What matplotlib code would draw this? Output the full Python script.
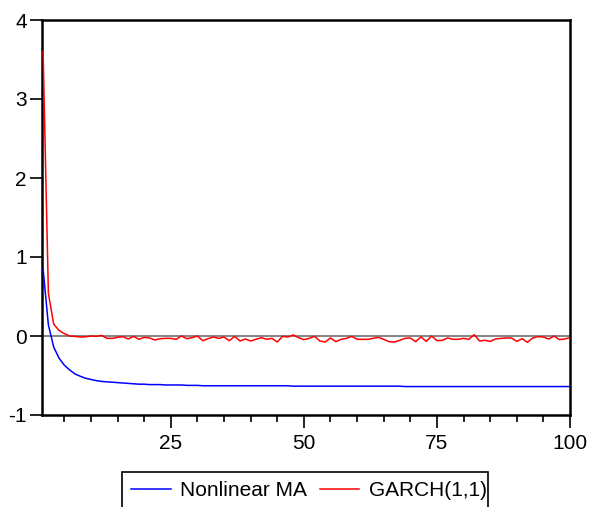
import matplotlib
matplotlib.use("Agg")
import matplotlib.pyplot as plt
from matplotlib.ticker import FixedLocator, MultipleLocator
from matplotlib.lines import Line2D
from matplotlib.patches import Rectangle

plt.rcParams['font.family'] = ['Liberation Sans', 'DejaVu Sans']

periods = list(range(1, 101))

nonlinear_ma = [
    0.85, 0.14, -0.14, -0.28, -0.37, -0.43, -0.48, -0.51, -0.535, -0.55,
    -0.565, -0.575, -0.58, -0.585, -0.59, -0.595, -0.60, -0.605, -0.61, -0.61,
    -0.615, -0.615, -0.615, -0.62, -0.62, -0.62, -0.62, -0.625, -0.625, -0.625,
    -0.63, -0.63, -0.63, -0.63, -0.63, -0.63, -0.63, -0.63, -0.63, -0.63,
    -0.63, -0.63, -0.63, -0.63, -0.63, -0.63, -0.63, -0.635, -0.635, -0.635,
    -0.635, -0.635, -0.635, -0.635, -0.635, -0.635, -0.635, -0.635, -0.635, -0.635,
    -0.635, -0.635, -0.635, -0.635, -0.635, -0.635, -0.635, -0.635, -0.64, -0.64,
    -0.64, -0.64, -0.64, -0.64, -0.64, -0.64, -0.64, -0.64, -0.64, -0.64,
    -0.64, -0.64, -0.64, -0.64, -0.64, -0.64, -0.64, -0.64, -0.64, -0.64,
    -0.64, -0.64, -0.64, -0.64, -0.64, -0.64, -0.64, -0.64, -0.64, -0.64,
]

garch = [
    3.60, 0.54, 0.15, 0.07, 0.03, 0.0, -0.005, -0.013, -0.01, 0.0,
    -0.005, 0.008, -0.03, -0.03, -0.017, -0.008, -0.038, -0.004, -0.042, -0.017,
    -0.025, -0.05, -0.034, -0.03, -0.03, -0.042, 0.0, -0.034, -0.021, 0.0,
    -0.059, -0.034, -0.013, -0.03, -0.013, -0.06, -0.004, -0.063, -0.038, -0.063,
    -0.042, -0.021, -0.042, -0.03, -0.076, -0.004, -0.013, 0.013, -0.021, -0.046,
    -0.03, -0.004, -0.063, -0.076, -0.025, -0.072, -0.042, -0.03, -0.004, -0.042,
    -0.042, -0.042, -0.03, -0.017, -0.042, -0.072, -0.076, -0.055, -0.03, -0.025,
    -0.072, -0.013, -0.068, 0.0, -0.059, -0.055, -0.025, -0.042, -0.042, -0.03,
    -0.042, 0.017, -0.063, -0.055, -0.068, -0.038, -0.03, -0.025, -0.025, -0.068,
    -0.034, -0.08, -0.025, -0.008, -0.013, -0.038, 0.0, -0.046, -0.038, -0.021,
]

series_names = ["Nonlinear MA", "GARCH(1,1)"]
series_colors = ["#0000ff", "#ff0000"]
y_ticks = [-1, 0, 1, 2, 3, 4]
x_major_ticks = [25, 50, 75, 100]

W, H = 589, 507
fig = plt.figure(figsize=(W / 100, H / 100), dpi=100)
ax = fig.add_axes([42 / W, 1 - 415 / H, 528 / W, 395 / H])

ax.axhline(0, color="#707070", lw=1.2, zorder=1)
ax.plot(periods, nonlinear_ma, color=series_colors[0], lw=1.1, zorder=3)
ax.plot(periods, garch, color=series_colors[1], lw=1.1, zorder=3)

ax.set_xlim(0.8, 100)
ax.set_ylim(-1, 4)
ax.yaxis.set_major_locator(FixedLocator(y_ticks))
ax.set_yticklabels([str(v) for v in y_ticks])
ax.xaxis.set_major_locator(FixedLocator(x_major_ticks))
ax.xaxis.set_minor_locator(MultipleLocator(5))
ax.set_xticklabels([str(v) for v in x_major_ticks])

for s in ax.spines.values():
    s.set_linewidth(1.8)
    s.set_color("black")

ax.tick_params(axis="both", which="major", direction="out", length=9, width=1.2,
               labelsize=15, colors="black")
ax.tick_params(axis="y", pad=2)
ax.tick_params(axis="x", which="major", pad=5)
ax.tick_params(axis="x", which="minor", direction="out", length=5, width=1.2)

# legend entries without the default frame; a tight box is drawn separately
handles = [Line2D([], [], color=c, lw=1.1) for c in series_colors]
leg = fig.legend(handles, series_names, loc="upper left",
                 bbox_to_anchor=(122 / W, 1 - 472 / H),
                 ncol=2, fontsize=15, frameon=False,
                 handlelength=1.9, handletextpad=0.45, columnspacing=0.6,
                 borderpad=0.45, borderaxespad=0)

box = Rectangle((122 / W, -20 / H), (488 - 122) / W, (20 + 507 - 472) / H,
                transform=fig.transFigure, fill=False, edgecolor="black",
                linewidth=1.2)
fig.add_artist(box)

fig.savefig("out.png", dpi=100)
